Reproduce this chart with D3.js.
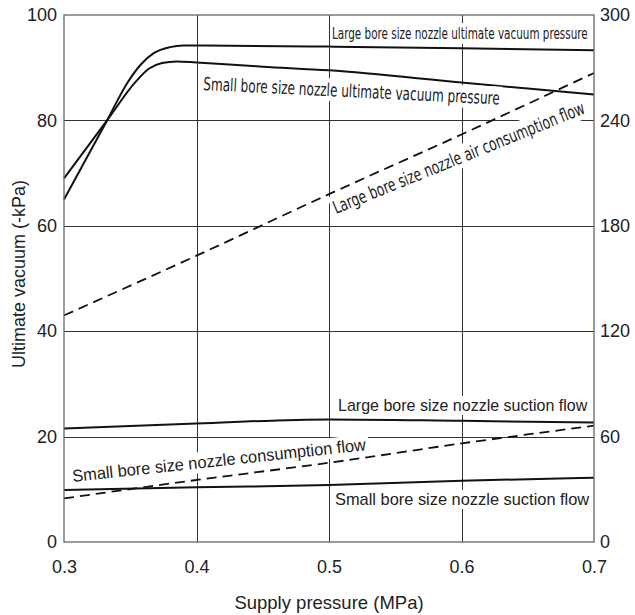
<!DOCTYPE html>
<head>
  <meta charset="utf-8" />
  <script src="https://d3js.org/d3.v7.min.js"></script>
  <style>
    body { margin: 0; background: #fff; }
    text { font-family: "Liberation Sans", Arial, sans-serif; fill: #222; }
    .narrow { font-family: "Liberation Sans Narrow", "Arial Narrow", "DejaVu Sans Condensed", sans-serif; }
  </style>
</head>
<body>
  <script>
    // supply pressure (MPa) and values
    var xTicks = [0.3, 0.4, 0.5, 0.6, 0.7];
    var leftTicks = [0, 20, 40, 60, 80, 100];
    var rightTicks = [0, 60, 120, 180, 240, 300];

    // ultimate vacuum (-kPa), left axis
    var largeVacP = [0.3, 0.3325, 0.348, 0.358, 0.368, 0.38, 0.39, 0.4, 0.5, 0.6, 0.7];
    var largeVac = [65, 80, 87.2, 90.6, 92.8, 93.9, 94.2, 94.2, 94.0, 93.7, 93.3];
    var smallVacP = [0.3, 0.3325, 0.354, 0.364, 0.374, 0.385, 0.4, 0.45, 0.5, 0.6, 0.7];
    var smallVac = [69, 80, 87.3, 89.8, 90.9, 91.2, 91.0, 90.2, 89.5, 87.2, 84.9];

    // flows (L/min), right axis
    var flowP = [0.3, 0.4, 0.5, 0.6, 0.7];
    var largeAir = [129, 163, 198, 232, 267];
    var largeSuction = [64.6, 67.5, 69.8, 69, 68];
    var smallAir = [24.8, 35.3, 45.1, 56.1, 66.2];
    var smallSuction = [29.6, 31.1, 32.4, 34.9, 36.6];

    var width = 635, height = 615;
    var margin = {top: 15, right: 41, bottom: 73, left: 64};

    var svg = d3.select("body").append("svg")
      .attr("width", width)
      .attr("height", height);

    var x = d3.scaleLinear().domain([0.3, 0.7]).range([margin.left, width - margin.right]);
    var yL = d3.scaleLinear().domain([0, 100]).range([height - margin.bottom, margin.top]);
    var yR = d3.scaleLinear().domain([0, 300]).range([height - margin.bottom, margin.top]);

    // grid
    var grid = svg.append("g").attr("stroke", "#333").attr("stroke-width", 1);
    grid.selectAll(".vg").data(xTicks.slice(1, -1)).enter().append("line")
      .attr("x1", d => Math.round(x(d)) + 0.5).attr("x2", d => Math.round(x(d)) + 0.5)
      .attr("y1", yL(0)).attr("y2", yL(100));
    grid.selectAll(".hg").data(leftTicks.slice(1, -1)).enter().append("line")
      .attr("y1", d => Math.round(yL(d)) + 0.5).attr("y2", d => Math.round(yL(d)) + 0.5)
      .attr("x1", x(0.3)).attr("x2", x(0.7));

    function series(px, vals, scale) {
      return px.map((p, i) => [x(p), scale(vals[i])]);
    }
    var line = d3.line().curve(d3.curveMonotoneX);

    var curves = svg.append("g").attr("fill", "none").attr("stroke", "#111");
    curves.append("path").attr("d", line(series(largeVacP, largeVac, yL))).attr("stroke-width", 2);
    curves.append("path").attr("d", line(series(smallVacP, smallVac, yL))).attr("stroke-width", 2);
    curves.append("path").attr("d", line(series(flowP, largeAir, yR))).attr("stroke-width", 1.8).attr("stroke-dasharray", "10,6");
    curves.append("path").attr("d", line(series(flowP, largeSuction, yR))).attr("stroke-width", 2);
    curves.append("path").attr("d", line(series(flowP, smallAir, yR))).attr("stroke-width", 1.8).attr("stroke-dasharray", "10,6");
    curves.append("path").attr("d", line(series(flowP, smallSuction, yR))).attr("stroke-width", 2);

    // labels with white boxes that hide the grid; squeezed sideways to the wanted length
    function label(txt, cx, cy, angle, size, cls, len) {
      var g = svg.append("g");
      var rect = g.append("rect").attr("fill", "#fff");
      var t = g.append("text").text(txt).attr("font-size", size).attr("class", cls || null);
      var b = t.node().getBBox();
      var sx = len ? len / b.width : 1;
      rect.attr("x", b.x - 2 / sx).attr("y", b.y - 1).attr("width", b.width + 4 / sx).attr("height", b.height + 2);
      g.attr("transform", "translate(" + cx + "," + cy + ") rotate(" + angle + ") scale(" + sx + ",1)");
    }
    label("Large bore size nozzle ultimate vacuum pressure", 332, 39, 0, 16, "narrow", 256);
    label("Small bore size nozzle ultimate vacuum pressure", 203, 90, 2.8, 18, "narrow", 297);
    label("Large bore size nozzle air consumption flow", 336, 214, -22, 18, "narrow", 270);
    label("Large bore size nozzle suction flow", 338, 411, 0, 16, null, 250);
    label("Small bore size nozzle consumption flow", 73, 482, -6.2, 17, null, 296);
    label("Small bore size nozzle suction flow", 335, 505, 0, 16, null, 255);

    // frame
    svg.append("rect")
      .attr("x", x(0.3)).attr("y", yL(100))
      .attr("width", x(0.7) - x(0.3)).attr("height", yL(0) - yL(100))
      .attr("fill", "none").attr("stroke", "#666").attr("stroke-width", 1.3);

    // axes
    var axB = d3.axisBottom(x).tickValues(xTicks).tickFormat(d3.format(".1f")).tickSize(0).tickPadding(18);
    var axL = d3.axisLeft(yL).tickValues(leftTicks).tickSize(0).tickPadding(7);
    var axR = d3.axisRight(yR).tickValues(rightTicks).tickSize(0).tickPadding(6);

    [[axB, "translate(0," + yL(0) + ")"], [axL, "translate(" + x(0.3) + ",0)"], [axR, "translate(" + x(0.7) + ",0)"]]
      .forEach(function (a) {
        var g = svg.append("g").attr("transform", a[1]).call(a[0]);
        g.select(".domain").remove();
        g.selectAll("text").attr("font-size", 18).attr("fill", "#222");
      });

    svg.append("text")
      .attr("x", (x(0.3) + x(0.7)) / 2).attr("y", 609)
      .attr("text-anchor", "middle").attr("font-size", 18.5)
      .text("Supply pressure (MPa)");

    svg.append("text")
      .attr("transform", "translate(25,274) rotate(-90)")
      .attr("text-anchor", "middle").attr("font-size", 18)
      .text("Ultimate vacuum (-kPa)");
  </script>
</body>
